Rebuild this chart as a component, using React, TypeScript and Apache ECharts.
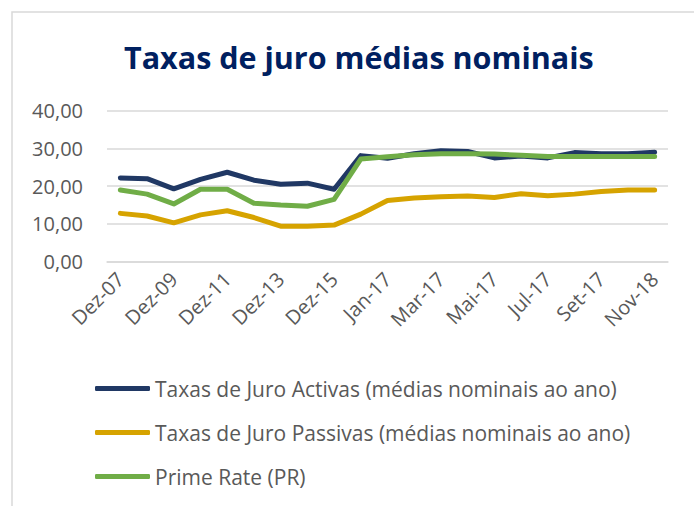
import React, { useEffect, useRef } from "react";
import * as echarts from "echarts";

const categories = [
  "Dez-07", "Dez-08", "Dez-09", "Dez-10", "Dez-11", "Dez-12", "Dez-13", "Dez-14", "Dez-15", "Dez-16",
  "Jan-17", "Fev-17", "Mar-17", "Abr-17", "Mai-17", "Jun-17", "Jul-17", "Ago-17", "Set-17", "Dez-17", "Nov-18",
];
const activas = [22.2, 22.0, 19.3, 21.8, 23.7, 21.6, 20.5, 20.8, 19.2, 28.1, 27.4, 28.6, 29.4, 29.2, 27.5, 28.0, 27.5, 28.9, 28.6, 28.6, 29.0];
const passivas = [12.8, 12.1, 10.3, 12.4, 13.5, 11.7, 9.4, 9.4, 9.7, 12.6, 16.2, 16.9, 17.2, 17.4, 17.0, 18.0, 17.5, 17.9, 18.6, 19.0, 19.0];
const prime = [19.0, 17.9, 15.3, 19.2, 19.2, 15.5, 15.0, 14.7, 16.5, 27.2, 27.8, 28.3, 28.6, 28.6, 28.5, 28.2, 27.9, 27.9, 27.9, 27.9, 27.9];
const seriesNames = [
  "Taxas de Juro Activas (médias nominais ao ano)",
  "Taxas de Juro Passivas (médias nominais ao ano)",
  "Prime Rate (PR)",
];
const colors = ["#203864", "#d6a300", "#70ad47"];

const FONT = "'Open Sans', sans-serif";

export default function App() {
  const ref = useRef<HTMLDivElement>(null);
  useEffect(() => {
    document.body.style.margin = "0";
    const chart = echarts.init(ref.current!, null, { renderer: "svg" });
    chart.setOption({
      animation: false,
      backgroundColor: "#ffffff",
      title: {
        text: "Taxas de juro médias nominais",
        left: 119,
        top: 36,
        textStyle: { fontFamily: FONT, fontSize: 30.5, fontWeight: "bold", color: "#002060" },
      },
      graphic: [
        {
          type: "rect",
          shape: { x: 12, y: 12, width: 720, height: 540 },
          style: { fill: "none", stroke: "#d9d9d9", lineWidth: 1.5 },
          silent: true,
        },
      ],
      legend: {
        orient: "vertical",
        left: 90,
        top: 373,
        itemWidth: 55,
        itemHeight: 5,
        itemGap: 23,
        icon: "roundRect",
        textStyle: { fontFamily: FONT, fontSize: 21, color: "#595959" },
        data: seriesNames,
      },
      grid: { left: 107, right: 26, top: 110.7, bottom: 244.3, containLabel: false },
      xAxis: {
        type: "category",
        data: categories,
        boundaryGap: true,
        axisLine: { show: true, lineStyle: { color: "#d9d9d9", width: 1.5 } },
        axisTick: { show: false },
        axisLabel: {
          interval: 1,
          rotate: 45,
          margin: 14,
          fontFamily: FONT,
          fontSize: 20,
          color: "#595959",
        },
      },
      yAxis: {
        type: "value",
        min: 0,
        max: 40,
        interval: 10,
        axisLine: { show: false },
        axisTick: { show: false },
        splitLine: { lineStyle: { color: "#d9d9d9", width: 1.5 } },
        axisLabel: {
          margin: 24,
          fontFamily: FONT,
          fontSize: 20,
          color: "#595959",
          formatter: (v: number) => v.toFixed(2).replace(".", ","),
        },
      },
      series: [
        { name: seriesNames[0], type: "line", data: activas, symbol: "none", lineStyle: { width: 5, color: colors[0], cap: "round", join: "round" }, itemStyle: { color: colors[0] } },
        { name: seriesNames[1], type: "line", data: passivas, symbol: "none", lineStyle: { width: 5, color: colors[1], cap: "round", join: "round" }, itemStyle: { color: colors[1] } },
        { name: seriesNames[2], type: "line", data: prime, symbol: "none", lineStyle: { width: 5, color: colors[2], cap: "round", join: "round" }, itemStyle: { color: colors[2] } },
      ],
    });
    return () => chart.dispose();
  }, []);
  return <div ref={ref} style={{ width: 694, height: 506 }} />;
}
